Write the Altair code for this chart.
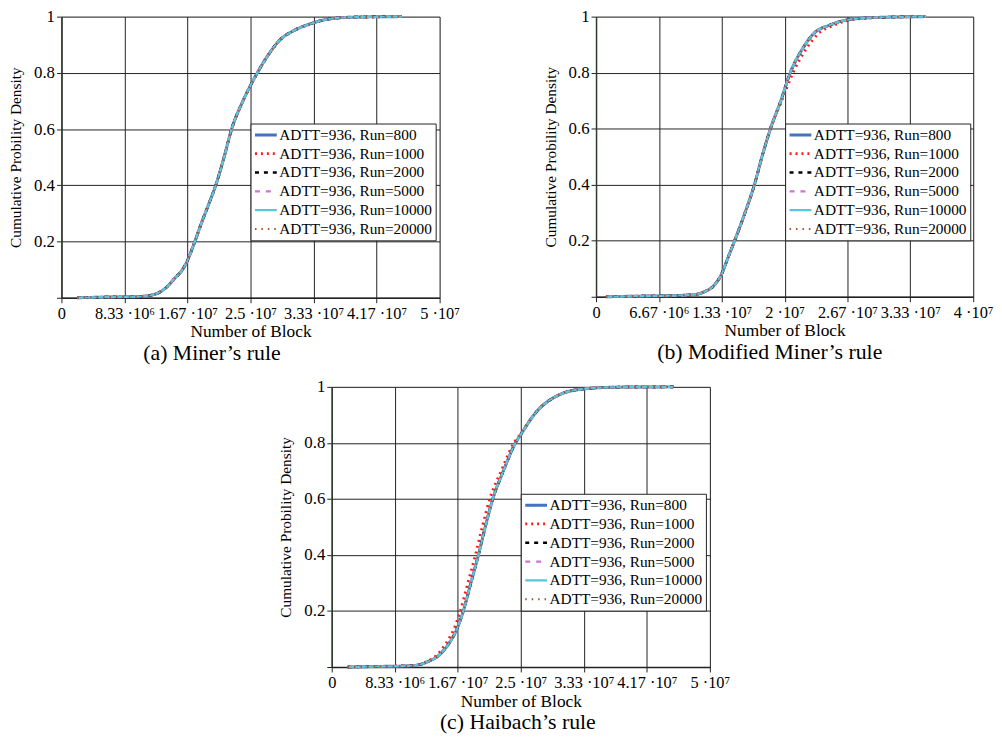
import altair as alt
import pandas as pd

# ---------------- data (x in units of 1e6 blocks) ----------------
SERIES = ["ADTT=936, Run=800", "ADTT=936, Run=1000", "ADTT=936, Run=2000",
          "ADTT=936, Run=5000", "ADTT=936, Run=10000", "ADTT=936, Run=20000"]
COLORS = ["#4472C4", "#FF1A1A", "#000000", "#CC77CC", "#5BC5DB", "#A0522D"]
DASHES = [[1, 0], [2, 4], [4, 5], [5, 6], [1, 0], [1.5, 5]]
WIDTHS = [3.0, 2.0, 3.0, 3.0, 3.5, 2.0]

# (a) Miner's rule
a_x = [2.1, 5, 10, 12, 13, 14, 15, 16, 16.7, 17.5, 18.5, 19.5, 20.4, 21.5, 22.5, 24,
       25.9, 27.5, 29, 30.5, 33, 35, 38.4, 45]
a_y = [0.0, 0.002, 0.004, 0.01, 0.02, 0.04, 0.07, 0.10, 0.135, 0.19, 0.265, 0.335, 0.4, 0.5,
       0.6, 0.7, 0.8, 0.87, 0.92, 0.947, 0.975, 0.99, 0.998, 1.0]

# (b) Modified Miner's rule
b_x = [1.05, 4, 8, 10.5, 11.5, 12.5, 13.3, 14, 14.7, 15.8, 16.8, 17.6, 18.5, 19.6, 20.6,
       21.8, 23.1, 24.8, 26.6, 29.7, 35]
b_y = [0.0, 0.002, 0.004, 0.008, 0.018, 0.04, 0.08, 0.14, 0.2, 0.3, 0.4, 0.5, 0.6, 0.7,
       0.8, 0.88, 0.94, 0.97, 0.988, 0.997, 1.0]
b_x_red = [1.05, 4, 8, 10.5, 11.5, 12.5, 13.3, 14, 14.7, 15.8, 16.8, 17.6, 18.5, 19.7, 20.9,
           22.2, 23.6, 25.3, 27.0, 30.0, 35]

# (c) Haibach's rule
c_x = [2.1, 6, 10, 11.5, 12.8, 14.1, 15.4, 16.7, 17.4, 18.4, 19.4, 20.3, 21.3, 22.7, 24.3,
       25, 27.2, 29.8, 33.4, 38, 45.2]
c_y = [0.0, 0.002, 0.004, 0.008, 0.02, 0.04, 0.08, 0.145, 0.2, 0.3, 0.4, 0.5, 0.6, 0.7,
       0.8, 0.83, 0.915, 0.968, 0.993, 0.999, 1.0]
c_x_red = [2.1, 6, 10, 11.5, 12.6, 13.8, 15.0, 16.3, 17.0, 18.0, 19.0, 19.9, 20.9, 22.4,
           24.1, 24.9, 27.2, 29.8, 33.4, 38, 45.2]

# tick labels
AC_TICKS = [0, 8.3333, 16.6667, 25, 33.3333, 41.6667, 50]
AC_LABELS = ["0", "8.33 ·10⁶", "1.67 ·10⁷", "2.5 ·10⁷", "3.33 ·10⁷", "4.17 ·10⁷", "5 ·10⁷"]
B_TICKS = [0, 6.6667, 13.3333, 20, 26.6667, 33.3333, 40]
B_LABELS = ["0", "6.67 ·10⁶", "1.33 ·10⁷", "2 ·10⁷", "2.67 ·10⁷", "3.33 ·10⁷", "4 ·10⁷"]
Y_TICKS = [0, 0.2, 0.4, 0.6, 0.8, 1.0]

FONT = "Liberation Serif"


def make_df(x_base, y_vals, overrides):
    rows = []
    for s in SERIES:
        xs = overrides.get(s, x_base)
        for xv, yv in zip(xs, y_vals):
            rows.append({"series": s, "x": xv, "y": yv})
    return pd.DataFrame(rows)


def panel(df, xmax, ticks, labels, caption, dx, w, h):
    step = ticks[1]
    label_expr = "[" + ",".join("'" + l + "'" for l in labels) + "][round(datum.value/" + str(step) + ")]"
    x_enc = alt.X("x:Q", scale=alt.Scale(domain=[0, xmax], nice=False, zero=True),
                  axis=alt.Axis(values=ticks, labelExpr=label_expr, title="Number of Block",
                                grid=True, gridColor="#222", gridWidth=1,
                                domainColor="#222", domainWidth=1.5, tickColor="#222",
                                tickSize=5, labelPadding=3, labelFontSize=16.5, labelFont=FONT,
                                labelColor="black", titleFont=FONT, titleFontSize=17.5,
                                titleFontWeight="normal", titleColor="black", titlePadding=1,
                                labelOverlap=False, labelFlush=False))
    y_enc = alt.Y("y:Q", scale=alt.Scale(domain=[0, 1], nice=False),
                  axis=alt.Axis(values=Y_TICKS,
                                labelExpr="datum.value == 0 ? '' : format(datum.value, '.1~f')",
                                title="Cumulative Probility Density",
                                grid=True, gridColor="#222", gridWidth=1,
                                domainColor="#2f3a2f", domainWidth=1.5, tickColor="#222",
                                tickSize=5, labelPadding=2, labelFontSize=17, labelFont=FONT,
                                labelColor="black", titleFont=FONT, titleFontSize=15.5,
                                titleFontWeight="normal", titleColor="black", titlePadding=10))
    legend = alt.Legend(orient="none", legendX=191, legendY=108, title=None,
                        strokeColor="#222", fillColor="white", padding=3,
                        labelFont=FONT, labelFontSize=15.5, labelColor="black",
                        labelOffset=1, symbolType="stroke", symbolSize=484,
                        clipHeight=17, rowPadding=2, symbolStrokeWidth=3)
    color = alt.Color("series:N", title=None, scale=alt.Scale(domain=SERIES, range=COLORS),
                      legend=legend)
    dash = alt.StrokeDash("series:N", title=None, scale=alt.Scale(domain=SERIES, range=DASHES),
                          legend=legend)
    sw = alt.StrokeWidth("series:N", title=None, scale=alt.Scale(domain=SERIES, range=WIDTHS),
                         legend=legend)
    base = alt.Chart(df).encode(x=x_enc, y=y_enc, color=color, strokeDash=dash, strokeWidth=sw)
    layers = [base.transform_filter(alt.datum.series == s).mark_line(interpolate="monotone")
              for s in SERIES]
    return alt.layer(*layers).properties(
        width=w, height=h,
        title=alt.TitleParams(caption, orient="bottom", font=FONT, fontSize=22,
                              fontWeight="normal", color="black", offset=3, dx=dx),
    )


df_a = make_df(a_x, a_y, {})
df_b = make_df(b_x, b_y, {SERIES[1]: b_x_red})
df_c = make_df(c_x, c_y, {SERIES[1]: c_x_red})

pa = panel(df_a, 50, AC_TICKS, AC_LABELS, "(a) Miner’s rule", -39, 382, 284)
pb = panel(df_b, 40, B_TICKS, B_LABELS, "(b) Modified Miner’s rule", -15, 381, 283)
pc = panel(df_c, 50, AC_TICKS, AC_LABELS, "(c) Haibach’s rule", -3, 382, 283)

spacer = alt.Chart(pd.DataFrame({"v": [0]})).mark_point(opacity=0).encode(
    x=alt.X("v:Q", axis=None), y=alt.Y("v:Q", axis=None)
).properties(width=218, height=10, view=alt.ViewBackground(stroke="transparent"))

ind = dict(color="independent", strokeDash="independent", strokeWidth="independent")

top = alt.hconcat(pa, pb, spacing=83).resolve_scale(**ind).resolve_legend(**ind)
bottom = alt.hconcat(spacer, pc, spacing=0).resolve_scale(**ind).resolve_legend(**ind)

chart = alt.vconcat(top, bottom, spacing=12).resolve_scale(**ind).resolve_legend(**ind).properties(
    padding={"left": 0, "top": -5, "right": 0, "bottom": 0}
).configure_view(stroke="#222", strokeWidth=1).configure(background="white")

chart.save("out.html", embed_options={"renderer": "svg", "actions": False})
